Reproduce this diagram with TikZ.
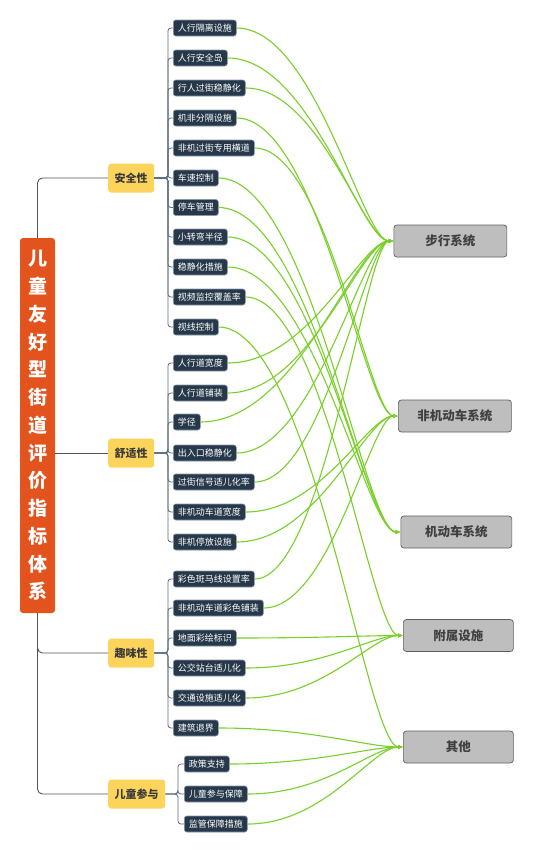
\documentclass[tikz,border=0pt]{standalone}
\usepackage{fontspec}
\setmainfont{Noto Sans CJK SC}
\usetikzlibrary{arrows.meta,calc}
\definecolor{titlec}{HTML}{E2531D}
\definecolor{catfill}{HTML}{FDD45B}
\definecolor{cattext}{HTML}{3A3A3A}
\definecolor{leaffill}{HTML}{263849}
\definecolor{leafbd}{HTML}{8797A8}
\definecolor{tgfill}{HTML}{BEBEBE}
\definecolor{tgbd}{HTML}{5E5E5E}
\definecolor{tgtext}{HTML}{404040}
\definecolor{trunkc}{HTML}{555555}
\definecolor{branchc}{HTML}{5D6E80}
\definecolor{connc}{HTML}{7AD02A}
\tikzset{
  leaf/.style={draw=leafbd, fill=leaffill, text=white, rounded corners=2.5pt,
    font=\fontsize{9}{10}\selectfont, inner xsep=4.5pt, inner ysep=0pt,
    minimum height=16pt, anchor=west, line width=0.6pt},
  cat/.style={fill=catfill, text=cattext, rounded corners=3pt,
    font=\bfseries\fontsize{11}{12}\selectfont, inner xsep=6.5pt, inner ysep=0pt,
    minimum height=29pt, anchor=west},
  target/.style={draw=tgbd, fill=tgfill, text=tgtext, rounded corners=3pt,
    font=\bfseries\fontsize{12.5}{14}\selectfont, minimum height=32pt,
    anchor=west, line width=0.7pt},
  titlebox/.style={fill=titlec, text=white, rounded corners=3pt,
    font=\bfseries\fontsize{19}{27.75}\selectfont, align=center,
    minimum width=35pt, minimum height=375pt, inner sep=0pt},
  trunk/.style={draw=trunkc, line width=0.9pt, rounded corners=5pt},
  branch/.style={draw=branchc, line width=0.8pt, rounded corners=3pt},
  conn/.style={draw=connc, line width=1.1pt, -{Latex[length=5pt,width=4.5pt]}},
}
\newcommand\myconn[2]{\draw[conn] let \p1=(#1.east), \p2=(#2.west),
  \n1={0.5*(\x2-\x1)}, \n2={0.2*(\x2-\x1)} in
  (\p1) .. controls +(\n1,0) and +(-\n2,0) .. (\p2);}
\begin{document}
\begin{tikzpicture}[x=1pt,y=-1pt]
\fill[white] (0,0) rectangle (533,852);
\useasboundingbox (0,0) rectangle (533,852);

% title
\node[titlebox] (title) at (37.5,425.5) {儿\\童\\友\\好\\型\\街\\道\\评\\价\\指\\标\\体\\系};

% categories
\node[cat] (c1) at (108,178) {安全性};
\node[cat] (c2) at (108,453) {舒适性};
\node[cat] (c3) at (108,653) {趣味性};
\node[cat] (c4) at (108,794) {儿童参与};

% trunk
\draw[trunk] (title.north) |- (c1.west);
\draw[trunk] (title.east |- c2.west) -- (c2.west);
\draw[trunk] (title.south) |- (c3.west);
\draw[trunk] (title.south) |- (c4.west);

% leaves
\foreach \i/\y/\t in {1/28/人行隔离设施, 2/58/人行安全岛, 3/88/行人过街稳静化,
  4/118/机非分隔设施, 5/148/非机过街专用横道, 6/178/车速控制, 7/207.5/停车管理,
  8/237/小转弯半径, 9/267/稳静化措施, 10/297/视频监控覆盖率, 11/327/视线控制,
  12/363/人行道宽度, 13/393/人行道铺装, 14/422/学径, 15/453/出入口稳静化,
  16/482/过街信号适儿化率, 17/512/非机动车道宽度, 18/542/非机停放设施,
  19/579/彩色斑马线设置率, 20/608/非机动车道彩色铺装, 21/638/地面彩绘标识,
  22/668/公交站台适儿化, 23/698/交通设施适儿化, 24/728/建筑退界}
  \node[leaf] (l\i) at (173,\y) {\t};
\foreach \i/\y/\t in {25/764/政策支持, 26/794/儿童参与保障, 27/824/监管保障措施}
  \node[leaf] (l\i) at (184,\y) {\t};

% branches
\foreach \i in {1,...,11} \draw[branch] (c1.east) -- ++(13.5,0) |- (l\i.west);
\foreach \i in {12,...,18} \draw[branch] (c2.east) -- ++(13.5,0) |- (l\i.west);
\foreach \i in {19,...,24} \draw[branch] (c3.east) -- ++(13.5,0) |- (l\i.west);
\foreach \i in {25,26,27} \draw[branch] (c4.east) -- ++(12.5,0) |- (l\i.west);

% targets
\node[target, minimum width=113pt] (t1) at (393.5,241) {步行系统};
\node[target, minimum width=113pt] (t2) at (398,416) {非机动车系统};
\node[target, minimum width=111pt] (t3) at (400.5,532) {机动车系统};
\node[target, minimum width=110pt] (t4) at (403,635.5) {附属设施};
\node[target, minimum width=110pt] (t5) at (403,747) {其他};

% connectors
\myconn{l1}{t1}
\myconn{l2}{t1}
\myconn{l3}{t1}
\myconn{l4}{t2}
\myconn{l5}{t2}
\myconn{l6}{t3}
\myconn{l7}{t3}
\myconn{l8}{t3}
\myconn{l9}{t3}
\myconn{l10}{t4}
\myconn{l11}{t5}
\myconn{l12}{t1}
\myconn{l13}{t1}
\myconn{l14}{t1}
\myconn{l15}{t1}
\myconn{l16}{t1}
\myconn{l17}{t2}
\myconn{l18}{t2}
\myconn{l19}{t1}
\myconn{l20}{t2}
\myconn{l21}{t4}
\myconn{l22}{t4}
\myconn{l23}{t4}
\myconn{l24}{t5}
\myconn{l25}{t5}
\myconn{l26}{t5}
\myconn{l27}{t5}
\end{tikzpicture}
\end{document}
